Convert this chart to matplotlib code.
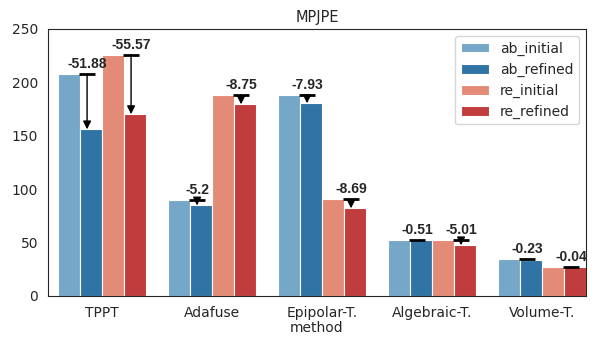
import numpy as np
import matplotlib
matplotlib.use("Agg")
import matplotlib.pyplot as plt
import seaborn as sns

methods = ['TPPT', 'Adafuse', 'Epipolar-T.', 'Algebraic-T.', 'Volume-T.']
ab_initial = [207.9, 89.9, 188.4, 52.4, 34.3]
ab_refined = [156.02, 84.7, 180.47, 51.89, 34.07]
re_initial = [225.8, 188.2, 90.7, 52.4, 26.9]
re_refined = [170.23, 179.45, 82.01, 47.39, 26.86]
ab_diff = ['-51.88', '-5.2', '-7.93', '-0.51', '-0.23']
re_diff = ['-55.57', '-8.75', '-8.69', '-5.01', '-0.04']

series = ['ab_initial', 'ab_refined', 're_initial', 're_refined']
colors = ['#75a7c8', '#2f74a5', '#e48b78', '#c03c3d']

sns.set_style("white")
fig, ax = plt.subplots(figsize=(5.93, 3.37), dpi=100)

x = np.arange(len(methods))
w = 0.2
vals = [ab_initial, ab_refined, re_initial, re_refined]
offs = [-1.5, -0.5, 0.5, 1.5]
for v, o, c, s in zip(vals, offs, colors, series):
    ax.bar(x + o * w, v, w, color=c, edgecolor='white', linewidth=0.8, label=s)

def mark(xc, y0, y1, txt):
    xm = xc - 0.035
    ax.plot([xm - 0.075, xm + 0.075], [y0, y0], color='black', lw=2, solid_capstyle='butt')
    if y0 - y1 > 1:
        ax.annotate('', xy=(xm, y1), xytext=(xm, y0),
                    arrowprops=dict(arrowstyle='-|>', color='black', lw=1, mutation_scale=12,
                                    shrinkA=0, shrinkB=0))
    ax.text(xm, y0 + 3, txt, ha='center', va='bottom', fontsize=10,
            fontweight='semibold', family=['Liberation Sans', 'DejaVu Sans'])

for i in range(len(methods)):
    mark(x[i] - 0.5 * w, ab_initial[i], ab_refined[i], ab_diff[i])
    mark(x[i] + 1.5 * w, re_initial[i], re_refined[i], re_diff[i])

ax.set_xticks(x)
ax.set_xticklabels(methods)
ax.set_ylim(0, 250)
ax.set_xlim(-0.49, 4.4)
ax.set_xlabel('method', fontsize=10, labelpad=1)
ax.set_title('MPJPE', fontsize=10.5, pad=5)
ax.tick_params(labelsize=10)
ax.legend(loc='upper right', fontsize=10)
plt.subplots_adjust(left=0.081, right=0.988, top=0.914, bottom=0.122)
plt.savefig('out.png')
